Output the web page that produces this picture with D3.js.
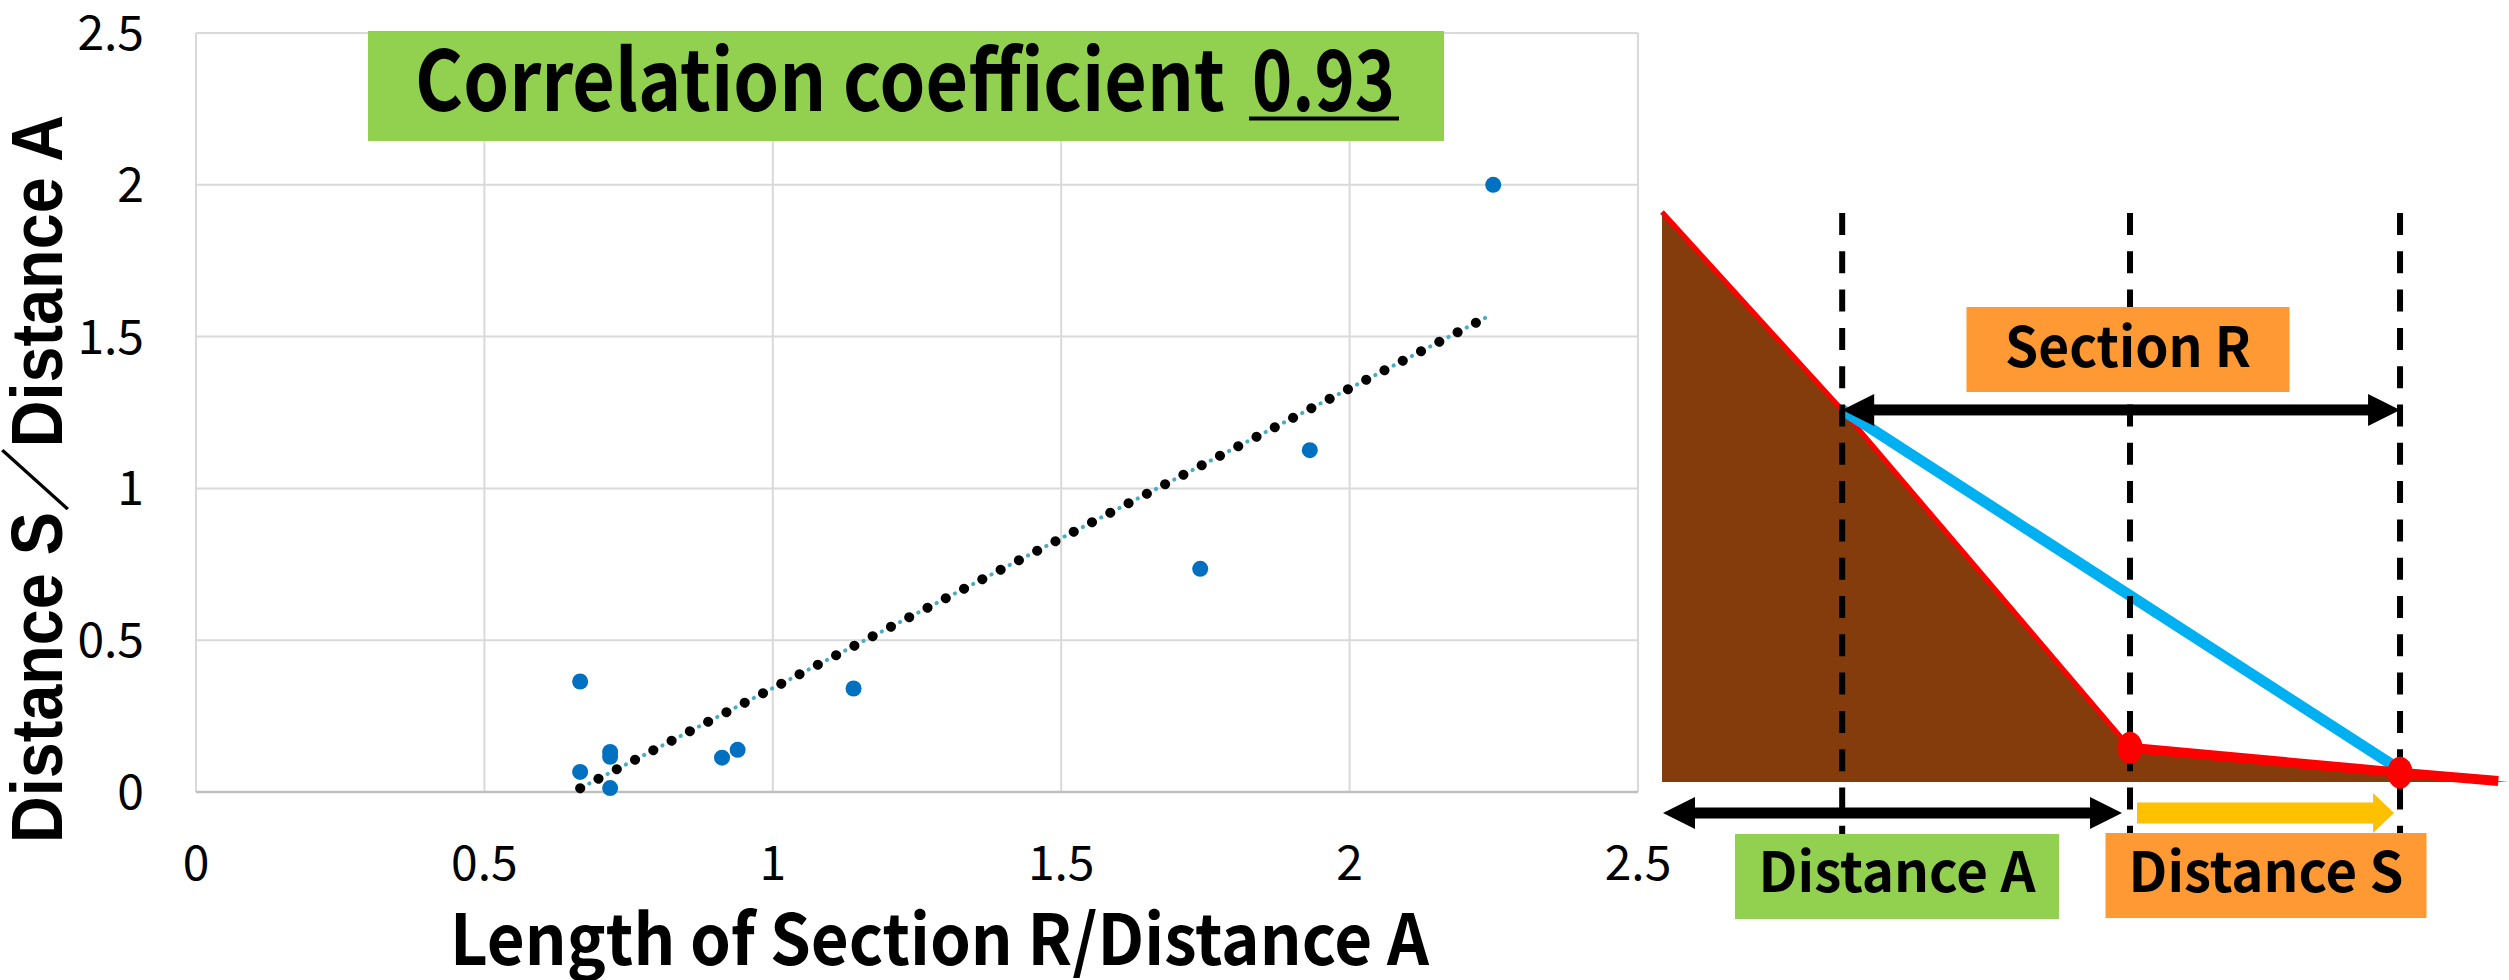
<!DOCTYPE html>
<html>
<head>
<meta charset="utf-8">
<title>Section R / Distance S correlation</title>
<style>
  body { margin: 0; background: #fff; }
  svg { display: block; }
</style>
</head>
<body>
<svg></svg>
<script src="https://d3js.org/d3.v7.min.js"></script>
<script>
// scatter values
const ratioR = [0.666, 0.666, 0.718, 0.718, 0.718, 0.912, 0.939, 1.140, 1.741, 1.931, 2.249];
const ratioS = [0.364, 0.066, 0.132, 0.116, 0.013, 0.113, 0.139, 0.341, 0.735, 1.126, 2.000];
const xTicks = [0, 0.5, 1, 1.5, 2, 2.5];
const yTicks = [0, 0.5, 1, 1.5, 2, 2.5];
const corrLabel = "Correlation coefficient";
const corrValue = "0.93";

// slope profile sketch, units of Distance A
const profileX = [0, 0.385, 1.0, 1.577, 1.787];
const profileY = [1.218, 0.795, 0.073, 0.020, 0.002];
const boxLabels = ["Section R", "Distance A", "Distance S"];

const width = 2509, height = 980;
const svg = d3.select("svg").attr("width", width).attr("height", height);
const jp = "'Noto Sans CJK JP', 'Noto Sans', sans-serif";

// ---------- scatter ----------
const x = d3.scaleLinear().domain([0, 2.5]).range([196, 1638]);
const y = d3.scaleLinear().domain([0, 2.5]).range([792, 33]);

const grid = svg.append("g");
grid.selectAll(".vg").data(xTicks).enter().append("line")
    .attr("x1", d => x(d)).attr("x2", d => x(d))
    .attr("y1", y(2.5)).attr("y2", y(0))
    .attr("stroke", "#d9d9d9").attr("stroke-width", 2);
grid.selectAll(".hg").data(yTicks).enter().append("line")
    .attr("x1", x(0)).attr("x2", x(2.5))
    .attr("y1", d => y(d)).attr("y2", d => y(d))
    .attr("stroke", d => d == 0 ? "#bfbfbf" : "#d9d9d9").attr("stroke-width", d => d == 0 ? 2.5 : 2);

svg.append("g").selectAll("text").data(xTicks).enter().append("text")
    .attr("x", d => x(d)).attr("y", 880)
    .attr("text-anchor", "middle")
    .style("font-family", jp).style("font-size", "48px")
    .text(d => d);
svg.append("g").selectAll("text").data(yTicks).enter().append("text")
    .attr("x", 144).attr("y", d => y(d) + 17)
    .attr("text-anchor", "end")
    .style("font-family", jp).style("font-size", "48px")
    .text(d => d);

// least squares trendline
const n = ratioR.length;
const mx = d3.mean(ratioR), my = d3.mean(ratioS);
let sxy = 0, sxx = 0;
for (let i = 0; i < n; i++) {
    sxy += (ratioR[i] - mx) * (ratioS[i] - my);
    sxx += (ratioR[i] - mx) * (ratioR[i] - mx);
}
const slope = sxy / sxx, icpt = my - slope * mx;
const x0 = d3.min(ratioR), x1 = d3.max(ratioR);
const trend = d3.line()([[x(x0), y(icpt + slope * x0)], [x(x1), y(icpt + slope * x1)]]);

svg.append("path").attr("d", trend)
    .attr("stroke", "#4bacc6").attr("stroke-width", 4)
    .attr("stroke-linecap", "round").attr("stroke-dasharray", "0.1 20.5")
    .attr("stroke-dashoffset", -10.3).attr("fill", "none");
svg.append("path").attr("d", trend)
    .attr("stroke", "#000").attr("stroke-width", 10)
    .attr("stroke-linecap", "round").attr("stroke-dasharray", "0.1 20.5")
    .attr("fill", "none");

svg.append("g").selectAll("circle").data(ratioR).enter().append("circle")
    .attr("cx", d => x(d)).attr("cy", (d, i) => y(ratioS[i]))
    .attr("r", 8).attr("fill", "#0070c0");

// correlation box
svg.append("rect").attr("x", 368).attr("y", 31).attr("width", 1076).attr("height", 110)
    .attr("fill", "#92d050");
svg.append("text").attr("x", 415).attr("y", 111)
    .attr("textLength", 810).attr("lengthAdjust", "spacingAndGlyphs")
    .style("font-family", jp).style("font-weight", "bold").style("font-size", "84px")
    .text(corrLabel);
svg.append("text").attr("x", 1252).attr("y", 111)
    .attr("textLength", 143).attr("lengthAdjust", "spacingAndGlyphs")
    .style("font-family", jp).style("font-weight", "bold").style("font-size", "84px")
    .text(corrValue);
svg.append("line").attr("x1", 1249).attr("x2", 1399).attr("y1", 118.5).attr("y2", 118.5)
    .attr("stroke", "#000").attr("stroke-width", 4);

// axis titles
svg.append("text").attr("x", 450).attr("y", 965)
    .attr("textLength", 979).attr("lengthAdjust", "spacingAndGlyphs")
    .style("font-family", jp).style("font-weight", "bold").style("font-size", "70px")
    .text("Length of Section R/Distance A");
svg.append("text")
    .attr("transform", "translate(62,479) rotate(-90)")
    .attr("text-anchor", "middle")
    .attr("textLength", 728).attr("lengthAdjust", "spacingAndGlyphs")
    .style("font-family", "'Liberation Sans', Arial, 'Noto Sans CJK JP', sans-serif")
    .style("font-weight", "bold").style("font-size", "72px")
    .text("Distance S／Distance A");

// ---------- slope sketch ----------
const dx = d3.scaleLinear().domain([0, 1]).range([1662, 2130]);
const dy = d3.scaleLinear().domain([0, 1]).range([782, 314]);
const pts = profileX.map((v, i) => [dx(v), dy(profileY[i])]);
const ground = dy(0);

svg.append("path")
    .attr("d", d3.line()([[pts[0][0], ground]].concat(pts, [[pts[4][0] + 10, ground]])) + "Z")
    .attr("fill", "#843c0c");

svg.append("path").attr("d", d3.line()(pts.slice(0, 3)))
    .attr("stroke", "#ff0000").attr("stroke-width", 5).attr("fill", "none");

svg.append("line")
    .attr("x1", pts[1][0]).attr("y1", pts[1][1])
    .attr("x2", pts[3][0] - 8).attr("y2", pts[3][1] - 8)
    .attr("stroke", "#00b0f0").attr("stroke-width", 11);

// dashed guides
svg.append("g").selectAll("line").data([1, 2, 3]).enter().append("line")
    .attr("x1", i => pts[i][0]).attr("x2", i => pts[i][0])
    .attr("y1", 213).attr("y2", 838)
    .attr("stroke", "#000").attr("stroke-width", 6)
    .attr("stroke-dasharray", "22 16.3");

function arrow(xa, xb, yy, w, hl, hh, col, both) {
    const g = svg.append("g").attr("fill", col);
    g.append("rect").attr("x", both ? xa + hl - 1 : xa).attr("y", yy - w / 2)
        .attr("width", xb - xa - hl * (both ? 2 : 1) + 2).attr("height", w);
    g.append("path").attr("d", d3.line()([[xb, yy], [xb - hl, yy - hh], [xb - hl, yy + hh]]) + "Z");
    if (both)
        g.append("path").attr("d", d3.line()([[xa, yy], [xa + hl, yy - hh], [xa + hl, yy + hh]]) + "Z");
}
arrow(pts[1][0], pts[3][0], pts[1][1], 11, 32, 16, "#000", true);
arrow(pts[0][0] + 1, pts[2][0] - 8, 813, 11, 32, 16, "#000", true);
arrow(pts[2][0] + 7, pts[3][0] - 6, 813, 21, 21, 20, "#ffc000", false);

// thick red runout + points
svg.append("path").attr("d", d3.line()(pts.slice(2)))
    .attr("stroke", "#ff0000").attr("stroke-width", 10).attr("fill", "none");
svg.append("g").selectAll("ellipse").data([2, 3]).enter().append("ellipse")
    .attr("cx", i => pts[i][0]).attr("cy", i => pts[i][1])
    .attr("rx", 12.5).attr("ry", 16).attr("fill", "#ff0000");

// label boxes
const boxes = [
    { cx: pts[2][0] - 2, top: 307, w: 323, fill: "#ff9933", tw: 246, base: 367 },
    { cx: 1897, top: 834, w: 324, fill: "#92d050", tw: 277, base: 892 },
    { cx: (pts[2][0] + pts[3][0]) / 2 + 1, top: 833, w: 321, fill: "#ff9933", tw: 275, base: 892 }
];
boxes.forEach((b, i) => {
    svg.append("rect").attr("x", b.cx - b.w / 2).attr("y", b.top)
        .attr("width", b.w).attr("height", 85).attr("fill", b.fill);
    svg.append("text").attr("x", b.cx).attr("y", b.base)
        .attr("text-anchor", "middle")
        .attr("textLength", b.tw).attr("lengthAdjust", "spacingAndGlyphs")
        .style("font-family", jp).style("font-weight", "bold").style("font-size", "55px")
        .text(boxLabels[i]);
});
</script>
</body>
</html>
